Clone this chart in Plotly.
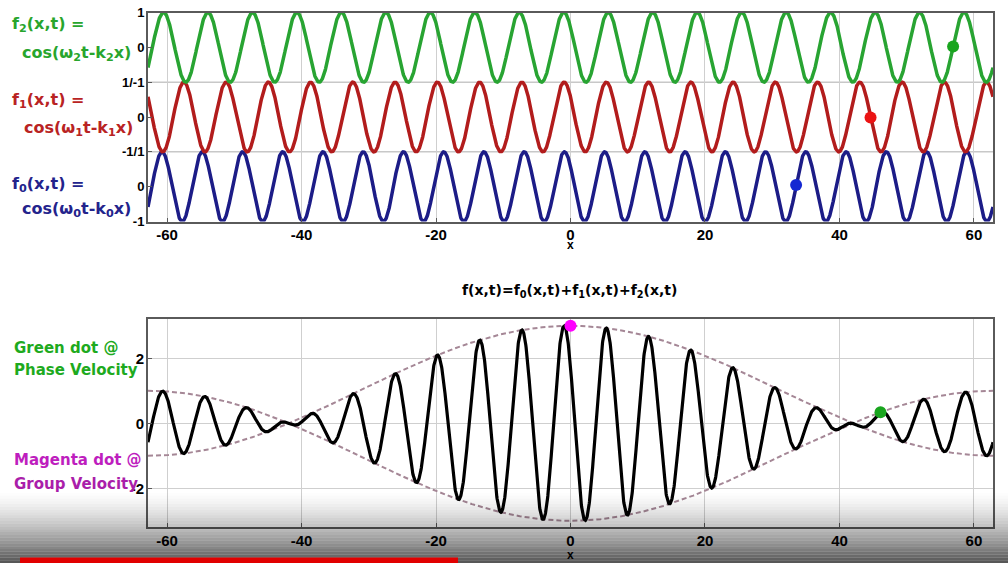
import numpy as np
import plotly.graph_objects as go

# ---------------- data ----------------
wave_names = ["f0", "f1", "f2"]
k_values = [1.05, 1.00, 0.95]          # wavenumbers k0, k1, k2
omega_t = [-0.95, -0.95, -0.95]        # phase  w_i * t
phase_dot_x = [33.55, 44.62, 56.9]     # dots on f0, f1, f2 (phase velocity)
sum_phase_dot_x = [46.1]               # green dot on the sum
group_dot_x = [0.0]                    # magenta dot (group velocity)
x_tick_vals = [-60, -40, -20, 0, 20, 40, 60]
x_tick_labels = ["-60", "-40", "-20", "0", "20", "40", "60"]
top_tick_labels = ["-1", "0", "-1/1", "0", "1/-1", "0", "1"]
bottom_tick_vals = [-2, 0, 2]
bottom_tick_labels = ["-2", "0", "2"]

# ---------------- layout constants ----------------
W, H = 1008, 563
X_MAX = 20 * np.pi
band_offset = [0, 2, 4]
wave_colors = ["rgb(28,28,135)", "rgb(178,28,28)", "rgb(40,164,50)"]
dot_colors = ["rgb(20,40,210)", "rgb(235,20,20)", "rgb(25,165,30)"]
FONT = "Liberation Sans, Arial, sans-serif"
LFONT = "DejaVu Sans, sans-serif"


def px(x):
    return x / W


def py(y):
    return 1 - y / H


x = np.linspace(-X_MAX, X_MAX, 3000)


def wave(i, xx):
    return np.cos(omega_t[i] - k_values[i] * np.asarray(xx))


fig = go.Figure()

# top panel: three waves stacked
for i in range(3):
    fig.add_trace(go.Scatter(x=x, y=band_offset[i] + wave(i, x), mode="lines",
                             line=dict(color=wave_colors[i], width=3.5),
                             xaxis="x", yaxis="y", hoverinfo="skip", showlegend=False))
for i in range(3):
    fig.add_trace(go.Scatter(x=[phase_dot_x[i]], y=band_offset[i] + wave(i, [phase_dot_x[i]]),
                             mode="markers", marker=dict(color=dot_colors[i], size=12),
                             xaxis="x", yaxis="y", showlegend=False))

# bottom panel: sum and envelope
total = sum(wave(i, x) for i in range(3))
dk = (k_values[0] - k_values[2]) / 2
dw = (omega_t[0] - omega_t[2]) / 2
env = 1 + 2 * np.cos(dw - dk * x)
env_color = "rgb(165,135,150)"
fig.add_trace(go.Scatter(x=x, y=env, mode="lines", line=dict(color=env_color, width=2, dash="5px,3px"),
                         xaxis="x2", yaxis="y2", hoverinfo="skip", showlegend=False))
fig.add_trace(go.Scatter(x=x, y=-env, mode="lines", line=dict(color=env_color, width=2, dash="5px,3px"),
                         xaxis="x2", yaxis="y2", hoverinfo="skip", showlegend=False))
fig.add_trace(go.Scatter(x=x, y=total, mode="lines", line=dict(color="black", width=3.2),
                         xaxis="x2", yaxis="y2", hoverinfo="skip", showlegend=False))
sd = np.asarray(sum_phase_dot_x)
fig.add_trace(go.Scatter(x=sd, y=sum(wave(i, sd) for i in range(3)), mode="markers",
                         marker=dict(color="rgb(25,165,30)", size=12),
                         xaxis="x2", yaxis="y2", showlegend=False))
gd = np.asarray(group_dot_x)
fig.add_trace(go.Scatter(x=gd, y=1 + 2 * np.cos(dw - dk * gd), mode="markers",
                         marker=dict(color="rgb(255,0,255)", size=12),
                         xaxis="x2", yaxis="y2", showlegend=False, cliponaxis=False))

axis_common = dict(showline=True, linecolor="#5a5a5a", linewidth=2, mirror=True, automargin=False,
                   ticks="inside", ticklen=4, tickcolor="#5a5a5a", zeroline=False)
xfont = dict(family=FONT, size=15, color="black", weight="bold")
xdom = [px(148), px(993)]
fig.update_layout(
    width=W, height=H, margin=dict(l=0, r=0, t=0, b=0, pad=0), autosize=False,
    paper_bgcolor="white", plot_bgcolor="white",
    xaxis=dict(domain=xdom, range=[-X_MAX, X_MAX], tickvals=x_tick_vals, ticktext=x_tick_labels,
               anchor="y", tickfont=xfont, ticklabelstandoff=-2,
               showgrid=True, gridcolor="#cfcfcf", gridwidth=1, **axis_common),
    yaxis=dict(domain=[py(221.5), py(12.5)], range=[-1, 5], tickvals=list(range(-1, 6)),
               ticktext=top_tick_labels, showgrid=False, anchor="x", ticklabelstandoff=-1,
               tickfont=dict(family=FONT, size=13, color="black", weight="bold"), **axis_common),
    xaxis2=dict(domain=xdom, range=[-X_MAX, X_MAX], tickvals=x_tick_vals, ticktext=x_tick_labels,
                anchor="y2", tickfont=xfont, ticklabelstandoff=-1,
                showgrid=True, gridcolor="#cfcfcf", gridwidth=1, **axis_common),
    yaxis2=dict(domain=[py(527.3), py(319.3)], range=[-3.2, 3.2], tickvals=bottom_tick_vals,
                ticktext=bottom_tick_labels, tickfont=xfont, ticklabelstandoff=-1,
                showgrid=True, gridcolor="#cfcfcf", gridwidth=1, anchor="x2", **axis_common),
)

# band boundary gridlines in the top panel
shapes = []
for b in [1, 3]:
    shapes.append(dict(type="line", xref="x domain", yref="y", x0=0, x1=1, y0=b, y1=b,
                       line=dict(color="#c8c8c8", width=1.5), layer="below"))

# video-player shading at the bottom of the screenshot
n = 26
y_start, y_end = 490, 563
for j in range(n):
    y0 = y_start + (y_end - y_start) * j / n
    y1 = y_start + (y_end - y_start) * (j + 1) / n
    a = 0.68 * ((j + 0.5) / n) ** 1.5
    shapes.append(dict(type="rect", xref="paper", yref="paper", x0=0, x1=1,
                       y0=py(y1), y1=py(y0), fillcolor="black", opacity=a, line=dict(width=0),
                       layer="above"))
shapes.append(dict(type="rect", xref="paper", yref="paper", x0=px(20), x1=px(458),
                   y0=py(563), y1=py(557.5), fillcolor="rgb(225,0,0)", line=dict(width=0), layer="above"))
fig.update_layout(shapes=shapes)

ann = []


def label(text, x0, yc, color, size=16, family=LFONT):
    ann.append(dict(text=text, xref="paper", yref="paper", x=px(x0), y=py(yc), xanchor="left",
                    yanchor="middle", showarrow=False,
                    font=dict(family=family, size=size, color=color, weight="bold")))


gc, rc, bc = "rgb(40,165,45)", "rgb(185,35,35)", "rgb(35,35,140)"
label("f<sub>2</sub>(x,t) =", 10, 24, gc)
label("cos(\u03c9<sub>2</sub>t-k<sub>2</sub>x)", 20, 53, gc)
label("f<sub>1</sub>(x,t) =", 10, 101, rc)
label("cos(\u03c9<sub>1</sub>t-k<sub>1</sub>x)", 22, 128, rc)
label("f<sub>0</sub>(x,t) =", 10, 184, bc)
label("cos(\u03c9<sub>0</sub>t-k<sub>0</sub>x)", 20, 209, bc)

label("Green dot @", 12, 348, "rgb(30,170,30)", 15)
label("Phase Velocity", 12, 370, "rgb(30,170,30)", 15)
label("Magenta dot @", 12, 460, "rgb(190,30,190)", 15)
label("Group Velocity", 12, 484, "rgb(170,30,170)", 15)

ann.append(dict(text="f(x,t)=f<sub>0</sub>(x,t)+f<sub>1</sub>(x,t)+f<sub>2</sub>(x,t)",
                xref="paper", yref="paper", x=px(569), y=py(291), xanchor="center", yanchor="middle",
                showarrow=False, font=dict(family=LFONT, size=14, color="black", weight="bold")))
for yy in [245, 555]:
    ann.append(dict(text="x", xref="paper", yref="paper", x=px(570), y=py(yy), xanchor="center",
                    yanchor="middle", showarrow=False,
                    font=dict(family=FONT, size=12, color="black", weight="bold")))
fig.update_layout(annotations=ann)

fig.write_html("out.html", config={"displayModeBar": False},
               post_script="document.body.style.margin='0px';")
